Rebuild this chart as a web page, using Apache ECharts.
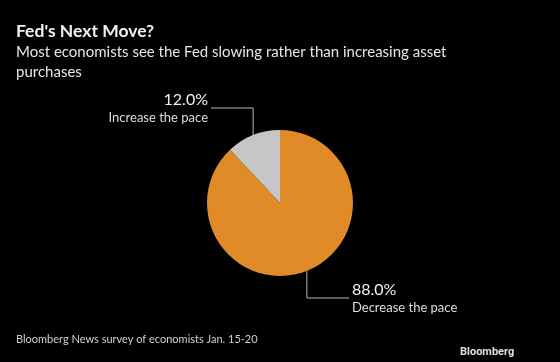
<!DOCTYPE html>
<html><head><meta charset="utf-8">
<script src="https://cdn.jsdelivr.net/npm/echarts@6/dist/echarts.min.js"></script>
<style>html,body{margin:0;padding:0;background:#000;}#c{width:560px;height:362px;}</style>
</head><body><div id="c"></div>
<script>
var categories = ['Decrease the pace', 'Increase the pace'];
var values = [88.0, 12.0];
var colors = ['#e08b27', '#c6c6c6'];
var titleText = "Fed's Next Move?";
var subtitleText = "Most economists see the Fed slowing rather than increasing asset\npurchases";
var sourceText = "Bloomberg News survey of economists Jan. 15-20";

var FONT = 'Lato, "Open Sans", sans-serif';
var chart = echarts.init(document.getElementById('c'));
chart.setOption({
  backgroundColor: '#000',
  animation: false,
  title: [
    {text: titleText, left: 11, top: 17, textStyle: {color: '#f2f2f2', fontSize: 17.5, fontWeight: 'bold', fontFamily: FONT}},
    {text: subtitleText, left: 11, top: 37, textStyle: {color: '#e6e6e6', fontSize: 15, fontWeight: 'normal', fontFamily: FONT, lineHeight: 20}},
    {text: sourceText, left: 11, top: 329, textStyle: {color: '#d0d0d0', fontSize: 11, fontWeight: 'normal', fontFamily: FONT}},
    {text: 'Bloomberg', left: 455, top: 342, textStyle: {color: '#e0e0e0', fontSize: 11, fontWeight: 'bold', fontFamily: 'Roboto, sans-serif'}}
  ],
  series: [{
    type: 'pie',
    center: [280, 203],
    radius: 73,
    startAngle: 90,
    clockwise: true,
    data: categories.map(function (c, i) { return {name: c, value: values[i], itemStyle: {color: colors[i]}}; }),
    itemStyle: {borderWidth: 0},
    label: {
      show: true,
      color: '#e6e6e6',
      fontFamily: FONT,
      formatter: function (p) { return '{p|' + p.value.toFixed(1) + '%}\n{n|' + p.name + '}'; },
      rich: {
        p: {fontSize: 16, lineHeight: 20, color: '#f0f0f0', fontFamily: FONT},
        n: {fontSize: 13, lineHeight: 16, color: '#dddddd', fontFamily: FONT}
      }
    },
    labelLine: {show: true, lineStyle: {color: '#b8b8b8', width: 1}},
    labelLayout: function (params) {
      var a = params.labelLinePoints[0];
      if (params.dataIndex === 1) {
        return {x: 208, y: 108, align: 'right', verticalAlign: 'middle',
          labelLinePoints: [[a[0], a[1]], [a[0], 108], [211, 108]]};
      } else {
        return {x: 352, y: 298, align: 'left', verticalAlign: 'middle',
          labelLinePoints: [[a[0], a[1]], [a[0], 298], [349, 298]]};
      }
    },
    emphasis: {disabled: true}
  }]
});
</script></body></html>
